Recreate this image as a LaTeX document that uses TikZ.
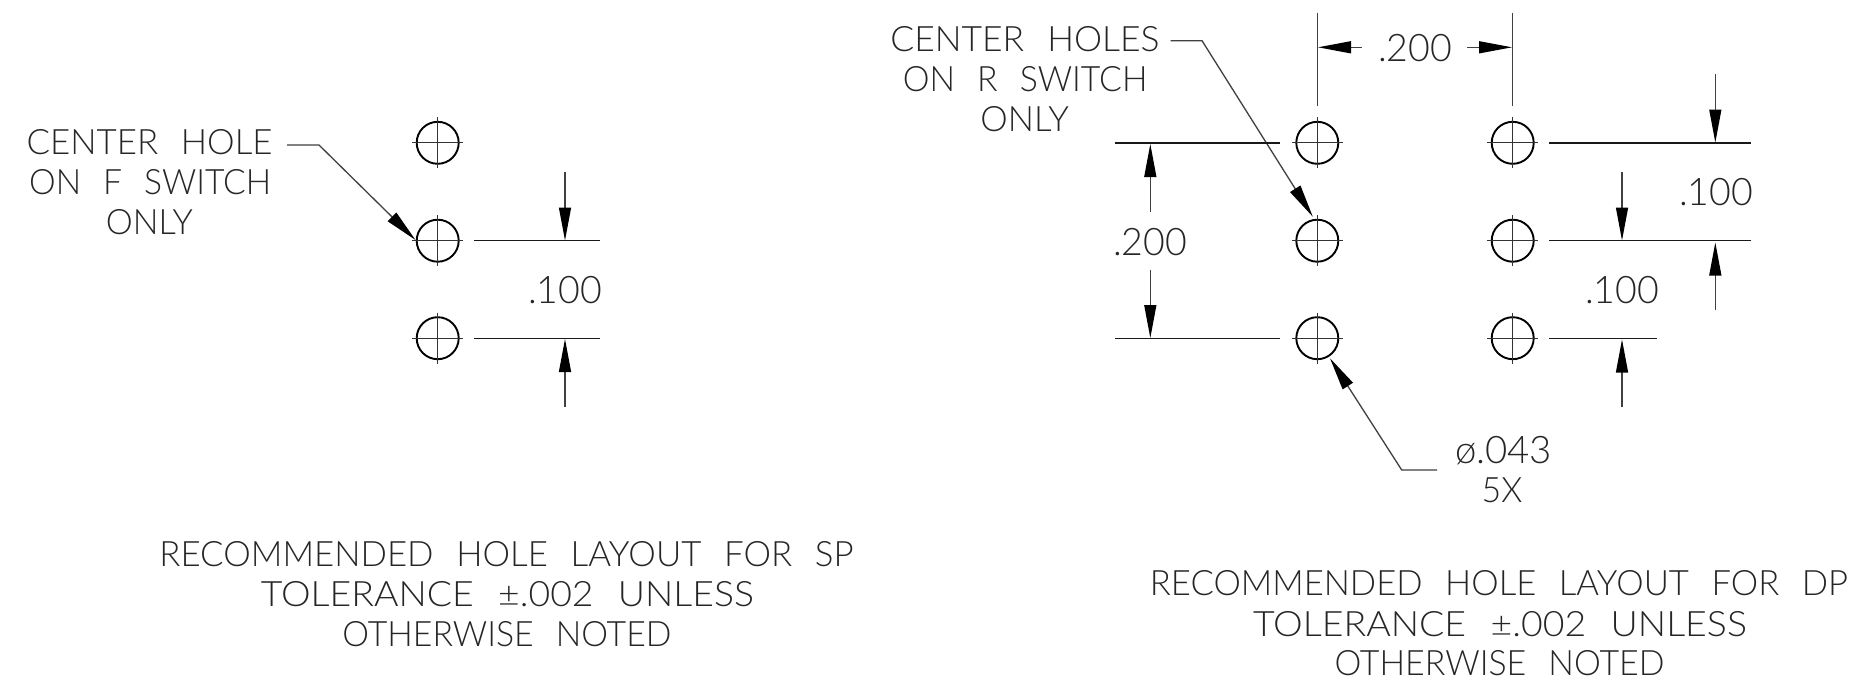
\documentclass[tikz,border=0pt]{standalone}
\usepackage{fontspec}
\usepackage{graphicx}
\setmainfont{Lato}[UprightFont=* Light,FakeStretch=0.82,WordSpace=2.4]
\usetikzlibrary{arrows.meta}
\newcommand\fitline[2]{\resizebox{#1pt}{\height}{#2}}
\tikzset{
  dimline/.style={line width=1.3pt,draw=black!75},
  extline/.style={line width=1.4pt,draw=black!90},
  tip/.style={-{Triangle[length=33pt,width=12pt,black]}},
  holecircle/.style={circle,draw,line width=1.9pt,minimum size=42pt,inner sep=0pt},
  cross/.style={line width=1.3pt,draw=black!80},
  txt/.style={font=\fontsize{35}{35}\selectfont,text=black!85,inner sep=0pt,anchor=center},
  numtxt/.style={font=\fontsize{38}{38}\selectfont,text=black!85,inner sep=0pt,anchor=center},
}
\newcommand\hole[3]{%
  \node[holecircle] (#1) at (#2,#3) {};
  \draw[cross] (#2-25.5,#3) -- (#2+25.5,#3);
  \draw[cross] (#2,#3-25.5) -- (#2,#3+25.5);
}
\begin{document}
\begin{tikzpicture}[x=1pt,y=-1pt]
\useasboundingbox[fill=white] (0,0) rectangle (1855,680);
% holes
\hole{la}{437.7}{142.8}\hole{lb}{437.7}{240.7}\hole{lc}{437.7}{338.2}
\hole{ra}{1317.3}{142.8}\hole{rb}{1317.3}{240.7}\hole{rc}{1317.3}{338.2}
\hole{sa}{1512.7}{142.8}\hole{sb}{1512.7}{240.7}\hole{sc}{1512.7}{338.2}
% left labels
\node[txt] (t1) at (149.6,142.5) {\fitline{246}{CENTER HOLE}};
\node[txt] (t2) at (150.2,182.5) {\fitline{242}{ON F SWITCH}};
\node[txt] (t3) at (149.3,222) {\fitline{87}{ONLY}};
\coordinate (l1) at (287,145);
\coordinate (l2) at (319,145);
\coordinate (l3) at (415.5,240);
\draw[dimline,tip] (l1) -- (l2) -- (l3);
% left dimension
\coordinate (e1a) at (474,240.7); \coordinate (e1b) at (600,240.7);
\coordinate (e2a) at (474,338.2); \coordinate (e2b) at (600,338.2);
\draw[extline] (e1a) -- (e1b);
\draw[extline] (e2a) -- (e2b);
\coordinate (d1) at (565,171.7); \coordinate (d1t) at (565,240.5);
\coordinate (d2) at (565,407); \coordinate (d2t) at (565,339);
\draw[dimline,tip] (d1) -- (d1t);
\draw[dimline,tip] (d2) -- (d2t);
\node[numtxt] (t4) at (565,290.5) {\fitline{74}{.100}};
% right labels
\node[txt] (t5) at (1025,39.2) {\fitline{269.3}{CENTER HOLES}};
\node[txt] (t6) at (1025.2,79) {\fitline{244.5}{ON R SWITCH}};
\node[txt] (t7) at (1024.7,118.7) {\fitline{88.5}{ONLY}};
\coordinate (m1) at (1170.6,40.7);
\coordinate (m2) at (1202,40.7);
\coordinate (m3) at (1312.8,216.7);
\draw[dimline,tip] (m1) -- (m2) -- (m3);
% .200 vertical
\coordinate (f1a) at (1114.8,142.8); \coordinate (f1b) at (1280,142.8);
\coordinate (f2a) at (1114.8,338.2); \coordinate (f2b) at (1280,338.2);
\draw[extline] (f1a) -- (f1b);
\draw[extline] (f2a) -- (f2b);
\coordinate (g1) at (1150.3,211.7); \coordinate (g1t) at (1150.3,144);
\coordinate (g2) at (1150.3,270); \coordinate (g2t) at (1150.3,338);
\draw[dimline,tip] (g1) -- (g1t);
\draw[dimline,tip] (g2) -- (g2t);
\node[numtxt] (t8) at (1150,242) {\fitline{74}{.200}};
% .200 horizontal
\coordinate (h1a) at (1317.3,12.7); \coordinate (h1b) at (1317.3,106);
\coordinate (h2a) at (1512.7,12.7); \coordinate (h2b) at (1512.7,106);
\draw[dimline] (h1a) -- (h1b);
\draw[dimline] (h2a) -- (h2b);
\coordinate (i1) at (1362,47.3); \coordinate (i1t) at (1318,47.3);
\coordinate (i2) at (1467,47.3); \coordinate (i2t) at (1512,47.3);
\draw[dimline,tip] (i1) -- (i1t);
\draw[dimline,tip] (i2) -- (i2t);
\node[numtxt] (t9) at (1415,48) {\fitline{74}{.200}};
% right .100 dims
\coordinate (j1a) at (1549.3,142.8); \coordinate (j1b) at (1750.7,142.8);
\coordinate (j2a) at (1549.3,240.7); \coordinate (j2b) at (1750.7,240.7);
\coordinate (j3a) at (1549.3,338.2); \coordinate (j3b) at (1656.7,338.2);
\draw[extline] (j1a) -- (j1b);
\draw[extline] (j2a) -- (j2b);
\draw[extline] (j3a) -- (j3b);
\coordinate (k1) at (1715.3,74); \coordinate (k1t) at (1715.3,142.5);
\coordinate (k2) at (1715.3,310); \coordinate (k2t) at (1715.3,242.5);
\coordinate (k3) at (1622,171.7); \coordinate (k3t) at (1622,240.5);
\coordinate (k4) at (1622,407.3); \coordinate (k4t) at (1622,339.5);
\draw[dimline,tip] (k1) -- (k1t);
\draw[dimline,tip] (k2) -- (k2t);
\draw[dimline,tip] (k3) -- (k3t);
\draw[dimline,tip] (k4) -- (k4t);
\node[numtxt] (t10) at (1716,192.5) {\fitline{74}{.100}};
\node[numtxt] (t11) at (1622,290.5) {\fitline{74}{.100}};
% diameter
\node[numtxt] (t12) at (1503.5,451) {\fitline{97}{ø.043}};
\node[txt] (t13) at (1502,490.5) {\fitline{40.6}{5X}};
\coordinate (n1) at (1437,470);
\coordinate (n2) at (1401.7,470);
\coordinate (n3) at (1330,358.3);
\draw[dimline,tip] (n1) -- (n2) -- (n3);
% notes
\node[txt] (b1) at (506.5,554.5) {\fitline{694}{RECOMMENDED HOLE LAYOUT FOR SP}};
\node[txt] (b2) at (507.5,594) {\fitline{493}{TOLERANCE ±.002 UNLESS}};
\node[txt] (b3) at (507,634) {\fitline{329}{OTHERWISE NOTED}};
\node[txt] (c1) at (1499,583.5) {\fitline{698}{RECOMMENDED HOLE LAYOUT FOR DP}};
\node[txt] (c2) at (1500,624) {\fitline{494}{TOLERANCE ±.002 UNLESS}};
\node[txt] (c3) at (1499.5,663.5) {\fitline{330}{OTHERWISE NOTED}};
\end{tikzpicture}
\end{document}
